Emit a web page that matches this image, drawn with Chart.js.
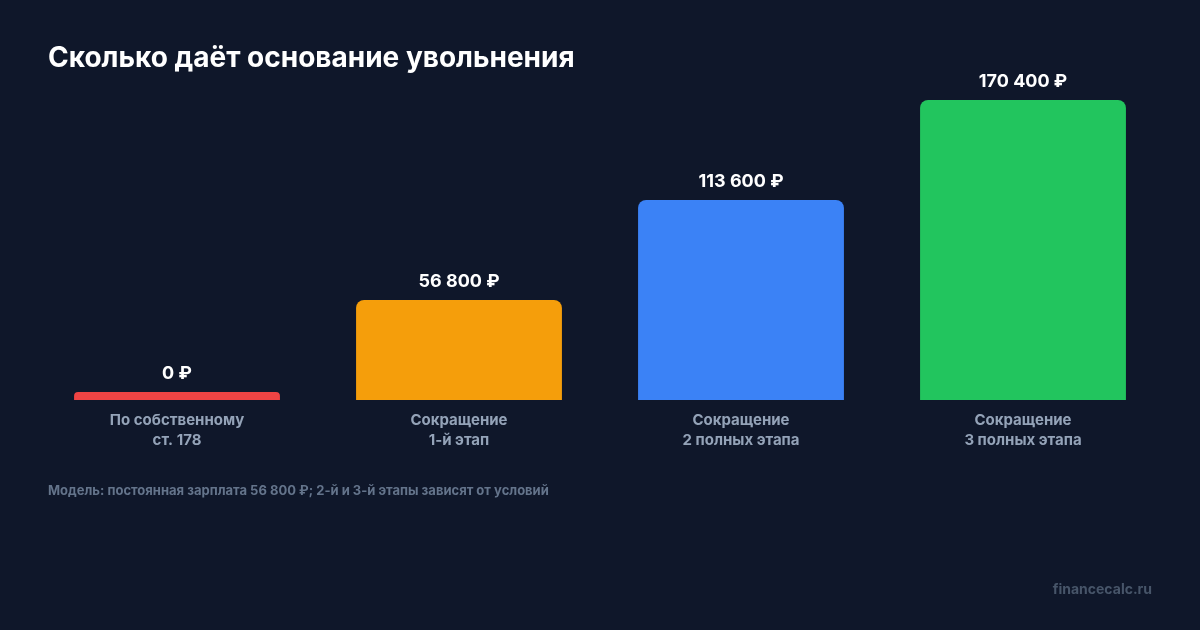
<!DOCTYPE html>
<html>
<head>
<meta charset="utf-8">
<title>Сколько даёт основание увольнения</title>
<script src="https://cdn.jsdelivr.net/npm/chart.js"></script>
<style>
  html, body { margin: 0; padding: 0; background: #0f172a; }
  #wrap { position: relative; width: 1200px; height: 630px; }
</style>
</head>
<body>
<div id="wrap">
  <canvas id="payoutChart" width="1200" height="630"></canvas>
</div>
<script>
const categories = [
  ['По собственному', 'ст. 178'],
  ['Сокращение', '1-й этап'],
  ['Сокращение', '2 полных этапа'],
  ['Сокращение', '3 полных этапа']
];
const payouts = [0, 56800, 113600, 170400];
const valueLabels = ['0 ₽', '56 800 ₽', '113 600 ₽', '170 400 ₽'];
const barColors = ['#ef4444', '#f59e0b', '#3b82f6', '#22c55e'];

const titleText = 'Сколько даёт основание увольнения';
const noteText = 'Модель: постоянная зарплата 56 800 ₽; 2-й и 3-й этапы зависят от условий';
const sourceText = 'financecalc.ru';

const FONT = 'Inter, "Noto Sans", sans-serif';

// background + title, footnote, watermark + value labels above bars
const decor = {
  id: 'decor',
  beforeDraw(chart) {
    const c = chart.ctx;
    c.save();
    c.fillStyle = '#0f172a';
    c.fillRect(0, 0, chart.width, chart.height);
    c.restore();
  },
  afterDraw(chart) {
    const c = chart.ctx;
    c.save();
    c.textBaseline = 'alphabetic';
    c.textAlign = 'left';
    c.fillStyle = '#ffffff';
    c.font = 'bold 28px ' + FONT;
    c.fillText(titleText, 48, 67);

    c.textBaseline = 'middle';
    c.fillStyle = '#64748b';
    c.font = 'bold 13px ' + FONT;
    c.fillText(noteText, 48, 491);

    c.textAlign = 'right';
    c.fillStyle = '#475569';
    c.font = 'bold 14px ' + FONT;
    c.fillText(sourceText, 1152, 590);

    c.textAlign = 'center';
    c.fillStyle = '#ffffff';
    c.font = 'bold 18px ' + FONT;
    chart.getDatasetMeta(0).data.forEach((bar, i) => {
      c.fillText(valueLabels[i], bar.x, bar.y - 18);
    });
    c.restore();
  }
};

new Chart(document.getElementById('payoutChart'), {
  type: 'bar',
  data: {
    labels: categories,
    datasets: [{
      data: payouts,
      backgroundColor: barColors,
      borderRadius: { topLeft: 8, topRight: 8, bottomLeft: 0, bottomRight: 0 },
      borderSkipped: false,
      minBarLength: 8,
      barPercentage: 0.73,
      categoryPercentage: 1
    }]
  },
  options: {
    responsive: false,
    animation: false,
    layout: { padding: { left: 36, right: 36, top: 100, bottom: 100 } },
    plugins: {
      legend: { display: false },
      tooltip: { enabled: false }
    },
    scales: {
      x: {
        grid: { display: false, drawTicks: false },
        border: { display: false },
        afterFit(scale) { scale.height = 130; },
        ticks: {
          color: '#94a3b8',
          padding: 10,
          font: { family: FONT, size: 15, weight: 'bold', lineHeight: '20px' },
          maxRotation: 0,
          autoSkip: false
        }
      },
      y: {
        display: false,
        min: 0,
        max: 170400
      }
    }
  },
  plugins: [decor]
});
</script>
</body>
</html>
